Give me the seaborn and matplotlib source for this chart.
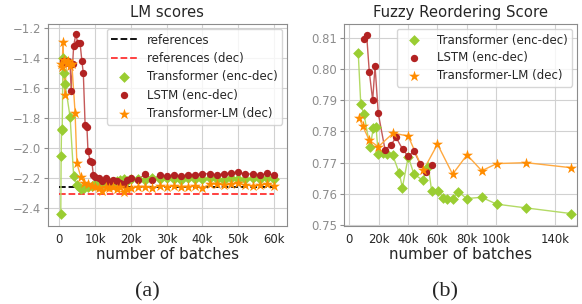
import numpy as np
import pandas as pd
import matplotlib
matplotlib.use('Agg')
import matplotlib.pyplot as plt
from matplotlib.colors import to_rgb
from matplotlib.ticker import FuncFormatter
import seaborn as sns

# ---- LM scores (left) ----
lm_tr_x = [400, 500, 600, 800, 1000, 1200, 1600, 3000, 4000, 5000, 6000, 7000, 8000, 9000,
           10000, 11000, 12000, 13000, 14000, 15000, 16000, 17000, 18000, 19000, 20000,
           22000, 24000, 26000, 28000, 30000, 32000, 34000, 36000, 38000, 40000, 42000,
           44000, 46000, 48000, 50000, 52000, 54000, 56000, 58000, 60000]
lm_tr_y = [-2.44, -2.05, -1.88, -1.87, -1.40, -1.50, -1.57, -1.79, -2.185, -2.245, -2.27, -2.265,
           -2.255, -2.25, -2.235, -2.235, -2.24, -2.23, -2.225, -2.235, -2.22, -2.21, -2.205,
           -2.215, -2.205, -2.205, -2.21, -2.20, -2.205, -2.20, -2.205, -2.21, -2.20, -2.205,
           -2.205, -2.20, -2.205, -2.21, -2.20, -2.205, -2.205, -2.20, -2.205, -2.20, -2.205]

lm_lstm_x = [1000, 1500, 2000, 2500, 3000, 3300, 3700, 4000, 4600, 5200, 5800, 6300, 6700,
             7200, 7700, 8000, 8600, 9100, 9500, 10000, 11000, 12000, 13000, 14000, 15000,
             16000, 17000, 18000, 19000, 20000, 22000, 24000, 26000, 28000, 30000, 32000,
             34000, 36000, 38000, 40000, 42000, 44000, 46000, 48000, 50000, 52000, 54000,
             56000, 58000, 60000]
lm_lstm_y = [-1.42, -1.43, -1.42, -1.42, -1.44, -1.616, -1.44, -1.316, -1.24, -1.30, -1.30,
             -1.417, -1.50, -1.845, -1.855, -2.016, -2.083, -2.093, -2.178, -2.19, -2.20,
             -2.215, -2.196, -2.225, -2.21, -2.215, -2.23, -2.235, -2.21, -2.196, -2.21,
             -2.17, -2.21, -2.178, -2.185, -2.178, -2.185, -2.178, -2.175, -2.171, -2.168,
             -2.178, -2.171, -2.163, -2.16, -2.171, -2.171, -2.18, -2.167, -2.18]

lm_tlm_x = [500, 800, 1000, 1200, 1500, 2000, 2500, 3000, 3500, 4400, 4900, 6000, 7000, 8000,
            9000, 10000, 11000, 12000, 13000, 14000, 15000, 16000, 17000, 18000, 19000, 20000,
            22000, 24000, 26000, 28000, 30000, 32000, 34000, 36000, 38000, 40000, 42000,
            44000, 46000, 48000, 50000, 52000, 54000, 56000, 58000, 60000]
lm_tlm_y = [-1.44, -1.46, -1.29, -1.41, -1.645, -1.43, -1.42, -1.45, -1.44, -1.763, -2.10,
            -2.19, -2.229, -2.24, -2.25, -2.26, -2.265, -2.283, -2.26, -2.267, -2.255, -2.273,
            -2.26, -2.289, -2.27, -2.262, -2.258, -2.255, -2.262, -2.25, -2.255, -2.252,
            -2.255, -2.255, -2.252, -2.262, -2.24, -2.235, -2.245, -2.24, -2.232, -2.245,
            -2.25, -2.245, -2.235, -2.25]

ref_score = -2.26
ref_dec_score = -2.307

# ---- Fuzzy Reordering Score (right) ----
frs_tr_x = [6100, 7800, 10000, 14100, 16300, 18200, 19700, 23000, 25400, 29500, 34000, 36100,
            40100, 44000, 49900, 53800, 56000, 60100, 64000, 66200, 70300, 74200, 79900,
            90000, 100300, 120200, 150600]
frs_tr_y = [0.805, 0.7887, 0.7855, 0.7749, 0.781, 0.7813, 0.7728, 0.7732, 0.7729, 0.7724,
            0.7667, 0.762, 0.7719, 0.7663, 0.7644, 0.7687, 0.761, 0.761, 0.7588, 0.7582,
            0.7585, 0.7606, 0.7585, 0.7589, 0.7567, 0.7555, 0.7537]

frs_lstm_x = [10000, 11800, 13600, 15900, 17500, 19700, 24300, 28200, 31800, 36300, 40100,
              44000, 48100, 52200, 56100]
frs_lstm_y = [0.8095, 0.8109, 0.7991, 0.790, 0.801, 0.7858, 0.7742, 0.7756, 0.7781, 0.7743,
              0.772, 0.7737, 0.7697, 0.7669, 0.7694]

frs_tlm_x = [6800, 9100, 13600, 19700, 29900, 40100, 50300, 60000, 70300, 80100, 90100,
             100300, 120200, 150600]
frs_tlm_y = [0.7842, 0.7817, 0.7772, 0.7751, 0.7795, 0.7785, 0.7675, 0.7759, 0.7663, 0.7725,
             0.7674, 0.7697, 0.770, 0.7684]

names = ['Transformer (enc-dec)', 'LSTM (enc-dec)', 'Transformer-LM (dec)']
colors = ['yellowgreen', 'firebrick', 'darkorange']
markers = ['D', 'o', '*']
sizes = [30, 28, 70]

sns.set_style('whitegrid', {'axes.edgecolor': '0.55', 'grid.color': '0.82',
                            'ytick.left': True, 'ytick.color': '0.55'})
plt.rcParams['font.family'] = ['DejaVu Sans']


def k_fmt(v, pos):
    return '0' if v == 0 else '%dk' % round(v / 1000)


def lighten(c, f=0.25):
    # line drawn a bit paler than the markers (like alpha on white)
    return tuple(v + (1 - v) * f for v in to_rgb(c))


def draw_series(ax, series):
    for (x, y), n, c, m, s in zip(series, names, colors, markers, sizes):
        ax.plot(np.asarray(x, float), np.asarray(y, float), '-', color=lighten(c), lw=1.0, zorder=2)
        sns.scatterplot(x=x, y=y, ax=ax, color=c, marker=m, s=s,
                        linewidth=0, label=n, zorder=3)


fig = plt.figure(figsize=(5.82, 3.04), dpi=100)
ax1 = fig.add_axes([0.082, 0.2566, 0.411, 0.664])
ax2 = fig.add_axes([0.5916, 0.2566, 0.40, 0.664])

# left panel
ax1.hlines(ref_score, 0, max(lm_tr_x), colors='black', linestyles='--', lw=1.3, label='references')
ax1.hlines(ref_dec_score, 0, max(lm_tr_x), colors=[lighten('red', 0.2)], linestyles='--', lw=1.3,
           label='references (dec)')
draw_series(ax1, [(lm_tr_x, lm_tr_y), (lm_lstm_x, lm_lstm_y), (lm_tlm_x, lm_tlm_y)])
ax1.set_xlim(-3250, 63600)
ax1.set_ylim(-2.518, -1.171)
ax1.set_xticks([0, 10000, 20000, 30000, 40000, 50000, 60000])
ax1.set_yticks([-2.4, -2.2, -2.0, -1.8, -1.6, -1.4, -1.2])
ax1.xaxis.set_major_formatter(FuncFormatter(k_fmt))
ax1.set_title('LM scores', fontsize=10.7, pad=5)
ax1.set_xlabel('number of batches', fontsize=10.9, labelpad=1)
ax1.set_ylabel('')
ax1.tick_params(labelsize=8.4, pad=2, length=3)
ax1.legend(loc='upper right', fontsize=8.5, borderaxespad=0.4, handlelength=2.2,
           labelspacing=0.45, framealpha=0.8)

# right panel
draw_series(ax2, [(frs_tr_x, frs_tr_y), (frs_lstm_x, frs_lstm_y), (frs_tlm_x, frs_tlm_y)])
ax2.set_xlim(-3400, 155000)
ax2.set_ylim(0.7497, 0.8144)
ax2.set_xticks([0, 20000, 40000, 60000, 80000, 100000, 140000])
ax2.set_yticks([0.75, 0.76, 0.77, 0.78, 0.79, 0.80, 0.81])
ax2.xaxis.set_major_formatter(FuncFormatter(k_fmt))
ax2.set_title('Fuzzy Reordering Score', fontsize=10.7, pad=5)
ax2.set_xlabel('number of batches', fontsize=10.9, labelpad=1)
ax2.set_ylabel('')
ax2.tick_params(labelsize=8.4, pad=2, length=3)
ax2.legend(loc='upper right', fontsize=8.5, borderaxespad=0.4, handlelength=2.2,
           labelspacing=0.4, framealpha=0.8)

fig.text(0.254, 0.04, '(a)', fontsize=16, family='Liberation Serif', ha='center', va='center')
fig.text(0.765, 0.04, '(b)', fontsize=16, family='Liberation Serif', ha='center', va='center')

fig.savefig('out.png', dpi=100)
